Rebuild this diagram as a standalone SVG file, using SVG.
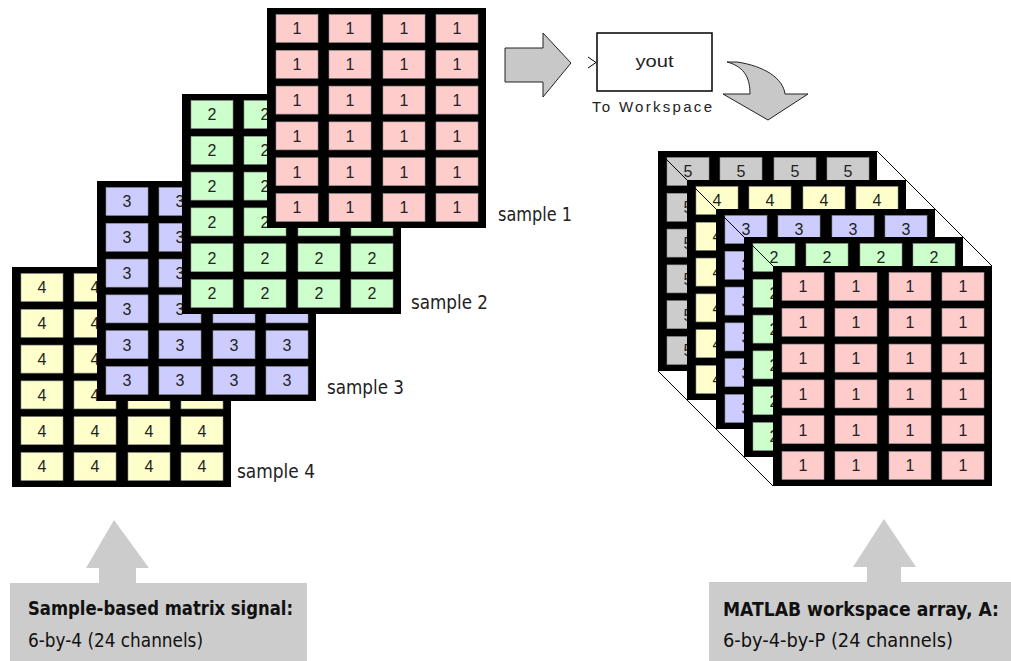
<svg xmlns="http://www.w3.org/2000/svg" xmlns:xlink="http://www.w3.org/1999/xlink" width="1011" height="661" viewBox="0 0 1011 661">
<style>
.frame{fill:#000}
.pk{fill:#ffcccc}
.gr{fill:#ccffcc}
.pu{fill:#ccccff}
.ye{fill:#ffffcc}
.gy{fill:#cccccc}
.cell{stroke:#8c8c8c;stroke-width:0.6}
.d{font-family:"Liberation Sans",Arial,sans-serif;font-size:16px;text-anchor:middle;fill:#222}
.lbl{font-family:"DejaVu Sans Condensed","DejaVu Sans",sans-serif;font-stretch:condensed;font-size:19px;fill:#222}
.cap{font-family:"DejaVu Sans Condensed","DejaVu Sans",sans-serif;font-stretch:condensed;font-size:19.5px;fill:#111}
.capb{font-family:"DejaVu Sans Condensed","DejaVu Sans",sans-serif;font-stretch:condensed;font-weight:bold;font-size:19.5px;fill:#111}
.blk{font-family:"Liberation Sans",Arial,sans-serif;fill:#222}
.diag{stroke:#000;stroke-width:1;fill:none}
.arr{fill:#c8c8c8;stroke:#222;stroke-width:1;stroke-linejoin:miter}
.big{fill:#cccccc}
</style>
<defs>
<g id="cells">
<rect class="cell" x="9" y="6.5" width="42" height="28"/><rect class="cell" x="62" y="6.5" width="42" height="28"/><rect class="cell" x="116" y="6.5" width="42" height="28"/><rect class="cell" x="169" y="6.5" width="42" height="28"/>
<rect class="cell" x="9" y="42.3" width="42" height="28"/><rect class="cell" x="62" y="42.3" width="42" height="28"/><rect class="cell" x="116" y="42.3" width="42" height="28"/><rect class="cell" x="169" y="42.3" width="42" height="28"/>
<rect class="cell" x="9" y="78.1" width="42" height="28"/><rect class="cell" x="62" y="78.1" width="42" height="28"/><rect class="cell" x="116" y="78.1" width="42" height="28"/><rect class="cell" x="169" y="78.1" width="42" height="28"/>
<rect class="cell" x="9" y="113.9" width="42" height="28"/><rect class="cell" x="62" y="113.9" width="42" height="28"/><rect class="cell" x="116" y="113.9" width="42" height="28"/><rect class="cell" x="169" y="113.9" width="42" height="28"/>
<rect class="cell" x="9" y="149.7" width="42" height="28"/><rect class="cell" x="62" y="149.7" width="42" height="28"/><rect class="cell" x="116" y="149.7" width="42" height="28"/><rect class="cell" x="169" y="149.7" width="42" height="28"/>
<rect class="cell" x="9" y="185.5" width="42" height="28"/><rect class="cell" x="62" y="185.5" width="42" height="28"/><rect class="cell" x="116" y="185.5" width="42" height="28"/><rect class="cell" x="169" y="185.5" width="42" height="28"/>
</g>
</defs>
<rect width="1011" height="661" fill="#fff"/>

<!-- Left stack: sample-based matrices -->
<g id="sample4" transform="translate(12,267)">
<rect class="frame" width="219" height="220"/>
<use href="#cells" class="ye"/>
<text class="d" x="30" y="26.3">4</text><text class="d" x="83" y="26.3">4</text>
<text class="d" x="30" y="62.1">4</text><text class="d" x="83" y="62.1">4</text>
<text class="d" x="30" y="97.9">4</text><text class="d" x="83" y="97.9">4</text>
<text class="d" x="30" y="133.7">4</text><text class="d" x="83" y="133.7">4</text>
<text class="d" x="30" y="169.5">4</text><text class="d" x="83" y="169.5">4</text><text class="d" x="137" y="169.5">4</text><text class="d" x="190" y="169.5">4</text>
<text class="d" x="30" y="205.3">4</text><text class="d" x="83" y="205.3">4</text><text class="d" x="137" y="205.3">4</text><text class="d" x="190" y="205.3">4</text>
</g>
<g id="sample3" transform="translate(97,181)">
<rect class="frame" width="219" height="220"/>
<use href="#cells" class="pu"/>
<text class="d" x="30" y="26.3">3</text><text class="d" x="83" y="26.3">3</text>
<text class="d" x="30" y="62.1">3</text><text class="d" x="83" y="62.1">3</text>
<text class="d" x="30" y="97.9">3</text><text class="d" x="83" y="97.9">3</text>
<text class="d" x="30" y="133.7">3</text><text class="d" x="83" y="133.7">3</text>
<text class="d" x="30" y="169.5">3</text><text class="d" x="83" y="169.5">3</text><text class="d" x="137" y="169.5">3</text><text class="d" x="190" y="169.5">3</text>
<text class="d" x="30" y="205.3">3</text><text class="d" x="83" y="205.3">3</text><text class="d" x="137" y="205.3">3</text><text class="d" x="190" y="205.3">3</text>
</g>
<g id="sample2" transform="translate(182,94)">
<rect class="frame" width="219" height="220"/>
<use href="#cells" class="gr"/>
<text class="d" x="30" y="26.3">2</text><text class="d" x="83" y="26.3">2</text>
<text class="d" x="30" y="62.1">2</text><text class="d" x="83" y="62.1">2</text>
<text class="d" x="30" y="97.9">2</text><text class="d" x="83" y="97.9">2</text>
<text class="d" x="30" y="133.7">2</text><text class="d" x="83" y="133.7">2</text>
<text class="d" x="30" y="169.5">2</text><text class="d" x="83" y="169.5">2</text><text class="d" x="137" y="169.5">2</text><text class="d" x="190" y="169.5">2</text>
<text class="d" x="30" y="205.3">2</text><text class="d" x="83" y="205.3">2</text><text class="d" x="137" y="205.3">2</text><text class="d" x="190" y="205.3">2</text>
</g>
<g id="sample1" transform="translate(267,8)">
<rect class="frame" width="219" height="220"/>
<use href="#cells" class="pk"/>
<text class="d" x="30" y="26.3">1</text><text class="d" x="83" y="26.3">1</text><text class="d" x="137" y="26.3">1</text><text class="d" x="190" y="26.3">1</text>
<text class="d" x="30" y="62.1">1</text><text class="d" x="83" y="62.1">1</text><text class="d" x="137" y="62.1">1</text><text class="d" x="190" y="62.1">1</text>
<text class="d" x="30" y="97.9">1</text><text class="d" x="83" y="97.9">1</text><text class="d" x="137" y="97.9">1</text><text class="d" x="190" y="97.9">1</text>
<text class="d" x="30" y="133.7">1</text><text class="d" x="83" y="133.7">1</text><text class="d" x="137" y="133.7">1</text><text class="d" x="190" y="133.7">1</text>
<text class="d" x="30" y="169.5">1</text><text class="d" x="83" y="169.5">1</text><text class="d" x="137" y="169.5">1</text><text class="d" x="190" y="169.5">1</text>
<text class="d" x="30" y="205.3">1</text><text class="d" x="83" y="205.3">1</text><text class="d" x="137" y="205.3">1</text><text class="d" x="190" y="205.3">1</text>
</g>
<g id="sample-labels">
<text class="lbl" x="498" y="221" textLength="74" lengthAdjust="spacingAndGlyphs">sample 1</text>
<text class="lbl" x="411" y="309" textLength="77" lengthAdjust="spacingAndGlyphs">sample 2</text>
<text class="lbl" x="327" y="394" textLength="77" lengthAdjust="spacingAndGlyphs">sample 3</text>
<text class="lbl" x="237" y="478" textLength="78" lengthAdjust="spacingAndGlyphs">sample 4</text>
</g>

<!-- To Workspace block -->
<g id="to-workspace">
<rect x="597" y="33" width="115" height="58" fill="#fff" stroke="#000" stroke-width="1.5"/>
<polyline points="588,57 596,62.5 588,68" fill="none" stroke="#000" stroke-width="1"/>
<text class="blk" x="654.5" y="67" font-size="17" text-anchor="middle" textLength="38" lengthAdjust="spacingAndGlyphs">yout</text>
<text class="blk" x="592" y="112" font-size="15" textLength="120" lengthAdjust="spacing">To Workspace</text>
</g>

<!-- Right stack: workspace array -->
<g id="array-outline">
<line class="diag" x1="877" y1="151" x2="992" y2="266"/>
<line class="diag" x1="658" y1="371" x2="773" y2="486"/>
</g>
<g id="array5" transform="translate(658,151)">
<rect class="frame" width="219" height="220"/>
<use href="#cells" class="gy"/>
<text class="d" x="30" y="26.3">5</text><text class="d" x="83" y="26.3">5</text><text class="d" x="137" y="26.3">5</text><text class="d" x="190" y="26.3">5</text>
<text class="d" x="30" y="62.1">5</text><text class="d" x="30" y="97.9">5</text><text class="d" x="30" y="133.7">5</text><text class="d" x="30" y="169.5">5</text><text class="d" x="30" y="205.3">5</text>
<line class="diag" x1="0" y1="0" x2="29" y2="29"/>
</g>
<g id="array4" transform="translate(687,180)">
<rect class="frame" width="219" height="220"/>
<use href="#cells" class="ye"/>
<text class="d" x="30" y="26.3">4</text><text class="d" x="83" y="26.3">4</text><text class="d" x="137" y="26.3">4</text><text class="d" x="190" y="26.3">4</text>
<text class="d" x="30" y="62.1">4</text><text class="d" x="30" y="97.9">4</text><text class="d" x="30" y="133.7">4</text><text class="d" x="30" y="169.5">4</text><text class="d" x="30" y="205.3">4</text>
<line class="diag" x1="0" y1="0" x2="29" y2="29"/>
</g>
<g id="array3" transform="translate(716,209)">
<rect class="frame" width="219" height="220"/>
<use href="#cells" class="pu"/>
<text class="d" x="30" y="26.3">3</text><text class="d" x="83" y="26.3">3</text><text class="d" x="137" y="26.3">3</text><text class="d" x="190" y="26.3">3</text>
<text class="d" x="30" y="62.1">3</text><text class="d" x="30" y="97.9">3</text><text class="d" x="30" y="133.7">3</text><text class="d" x="30" y="169.5">3</text><text class="d" x="30" y="205.3">3</text>
<line class="diag" x1="0" y1="0" x2="28" y2="28"/>
</g>
<g id="array2" transform="translate(744,237)">
<rect class="frame" width="219" height="220"/>
<use href="#cells" class="gr"/>
<text class="d" x="30" y="26.3">2</text><text class="d" x="83" y="26.3">2</text><text class="d" x="137" y="26.3">2</text><text class="d" x="190" y="26.3">2</text>
<text class="d" x="30" y="62.1">2</text><text class="d" x="30" y="97.9">2</text><text class="d" x="30" y="133.7">2</text><text class="d" x="30" y="169.5">2</text><text class="d" x="30" y="205.3">2</text>
<line class="diag" x1="0" y1="0" x2="29" y2="29"/>
</g>
<g id="array1" transform="translate(773,266)">
<rect class="frame" width="219" height="220"/>
<use href="#cells" class="pk"/>
<text class="d" x="30" y="26.3">1</text><text class="d" x="83" y="26.3">1</text><text class="d" x="137" y="26.3">1</text><text class="d" x="190" y="26.3">1</text>
<text class="d" x="30" y="62.1">1</text><text class="d" x="83" y="62.1">1</text><text class="d" x="137" y="62.1">1</text><text class="d" x="190" y="62.1">1</text>
<text class="d" x="30" y="97.9">1</text><text class="d" x="83" y="97.9">1</text><text class="d" x="137" y="97.9">1</text><text class="d" x="190" y="97.9">1</text>
<text class="d" x="30" y="133.7">1</text><text class="d" x="83" y="133.7">1</text><text class="d" x="137" y="133.7">1</text><text class="d" x="190" y="133.7">1</text>
<text class="d" x="30" y="169.5">1</text><text class="d" x="83" y="169.5">1</text><text class="d" x="137" y="169.5">1</text><text class="d" x="190" y="169.5">1</text>
<text class="d" x="30" y="205.3">1</text><text class="d" x="83" y="205.3">1</text><text class="d" x="137" y="205.3">1</text><text class="d" x="190" y="205.3">1</text>
</g>

<!-- Connectors: block arrows -->
<g id="connectors">
<path class="arr" d="M505,48 L543,48 L543,33 L571,63 L543,97 L543,82 L505,82 Z"/>
<path class="arr" d="M727,62 L737,62 C764,66 783,78 785,94 L808,94 L768,120 L723,94 L750,94 C750,80 746,67 727,62 Z"/>
<path class="big" d="M114,520 L149,568 L136,568 L136,584 L99,584 L99,568 L86,568 Z"/>
<path class="big" d="M884,519 L916,567 L901,567 L901,583 L867,583 L867,567 L853,567 Z"/>
</g>

<!-- Caption boxes -->
<g id="caption-left">
<rect class="big" x="10" y="583" width="297" height="78"/>
<text class="capb" x="28" y="615" textLength="265" lengthAdjust="spacingAndGlyphs">Sample-based matrix signal:</text>
<text class="cap" x="28" y="647" textLength="175" lengthAdjust="spacingAndGlyphs">6-by-4 (24 channels)</text>
</g>
<g id="caption-right">
<rect class="big" x="709" y="582" width="302" height="79"/>
<text class="capb" x="723" y="616" textLength="276" lengthAdjust="spacingAndGlyphs">MATLAB workspace array, A:</text>
<text class="cap" x="723" y="647" textLength="230" lengthAdjust="spacingAndGlyphs">6-by-4-by-P (24 channels)</text>
</g>
</svg>
